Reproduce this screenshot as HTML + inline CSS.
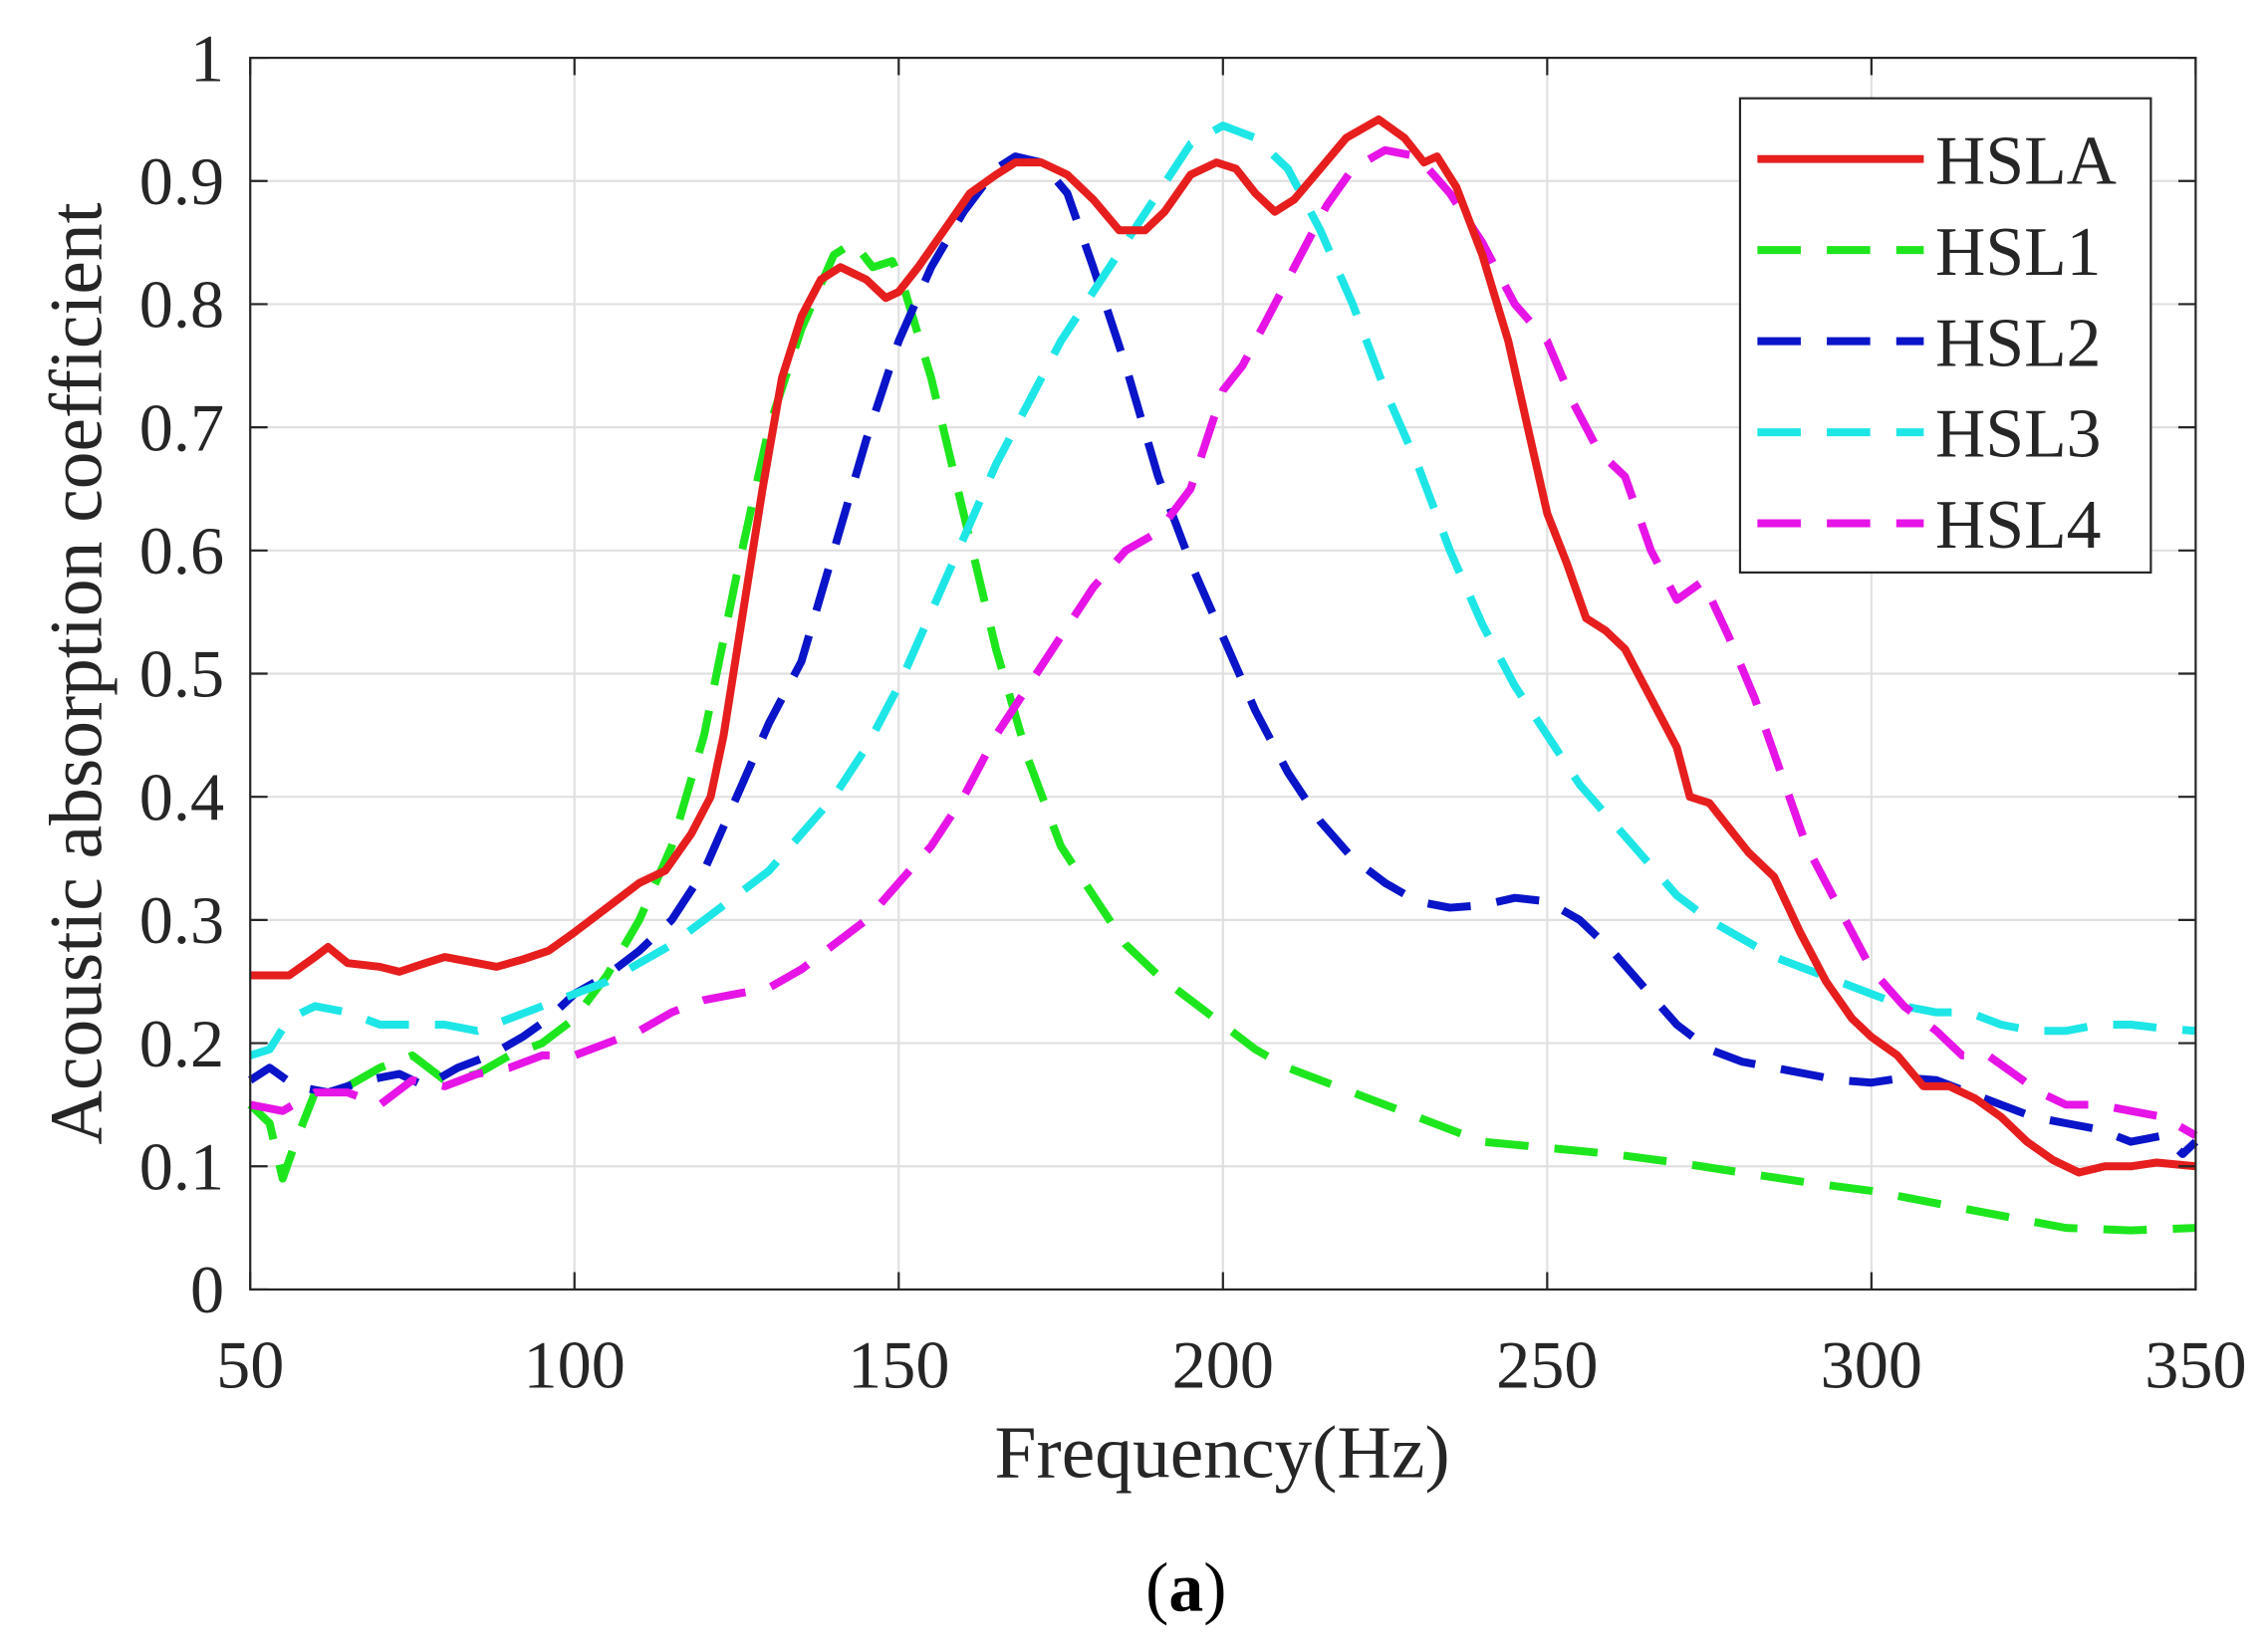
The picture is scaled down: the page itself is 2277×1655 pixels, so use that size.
<!DOCTYPE html>
<html><head><meta charset="utf-8"><style>
html,body{margin:0;padding:0;background:#fff;}
svg{display:block;}
text{font-family:"Liberation Serif",serif;fill:#262626;}
</style></head><body>
<svg id="s" width="2277" height="1655" viewBox="0 0 1568 1140" preserveAspectRatio="none" xmlns="http://www.w3.org/2000/svg">
<rect width="1568" height="1140" fill="#fff"/>
<g id="grid" stroke="#e0e0e0" stroke-width="1.5"></g>
<g id="series" fill="none" stroke-width="5.5" stroke-linejoin="round"></g>
<rect x="173" y="40" width="1345" height="852" fill="none" stroke="#262626" stroke-width="1.5"/>
<g id="ticks" stroke="#262626" stroke-width="1.5"></g>
<g id="labels" font-size="47"></g>
<text x="845" y="1022" font-size="52" text-anchor="middle">Frequency(Hz)</text>
<text transform="translate(70,466) rotate(-90)" font-size="52" text-anchor="middle">Acoustic absorption coefficient</text>
<text x="820" y="1114" font-size="48" text-anchor="middle" style="fill:#000">(<tspan font-weight="bold">a</tspan>)</text>
<g id="legend">
<rect x="1203" y="68" width="284" height="328" fill="#fff" stroke="#262626" stroke-width="1.5"/>
</g>
</svg>
<script>
const X=f=>173+(f-50)*1345/300, Y=v=>892-852*v;
const NS="http://www.w3.org/2000/svg";
function el(p,t,a,txt){const e=document.createElementNS(NS,t);for(const k in a)e.setAttribute(k,a[k]);if(txt!==undefined)e.textContent=txt;document.getElementById(p).appendChild(e);return e;}
for(let f=50;f<=350;f+=50){const x=X(f);el("grid","line",{x1:x,x2:x,y1:40,y2:892});el("ticks","line",{x1:x,x2:x,y1:892,y2:880});el("ticks","line",{x1:x,x2:x,y1:40,y2:52});el("labels","text",{x:x,y:960,"text-anchor":"middle"},String(f));}
for(let i=0;i<=10;i++){const v=i/10,y=Y(v);el("grid","line",{x1:173,x2:1518,y1:y,y2:y});el("ticks","line",{x1:173,x2:185,y1:y,y2:y});el("ticks","line",{x1:1518,x2:1506,y1:y,y2:y});el("labels","text",{x:155,y:y+16,"text-anchor":"end"},i==0?"0":i==10?"1":v.toFixed(1));}
const D={
A:[[50,.255],[56,.255],[60,.27],[62,.278],[65,.265],[70,.262],[73,.258],[77,.265],[80,.27],[85,.265],[88,.262],[92,.268],[96,.275],[100,.29],[105,.31],[110,.33],[114,.34],[118,.37],[121,.40],[123,.45],[126,.55],[129,.65],[132,.74],[135,.79],[138,.82],[141,.83],[145,.82],[148,.805],[150,.81],[153,.83],[157,.86],[161,.89],[165,.905],[168,.915],[172,.915],[176,.905],[180,.885],[184,.86],[188,.86],[191,.875],[195,.905],[199,.915],[202,.91],[205,.89],[208,.875],[211,.885],[215,.91],[219,.935],[224,.95],[228,.935],[231,.915],[233,.92],[236,.895],[240,.84],[244,.77],[247,.70],[250,.63],[253,.59],[256,.545],[259,.535],[262,.52],[265,.49],[268,.46],[270,.44],[272,.40],[275,.395],[278,.375],[281,.355],[285,.335],[289,.29],[293,.25],[297,.22],[300,.205],[304,.19],[308,.165],[312,.165],[316,.155],[320,.14],[324,.12],[328,.105],[332,.095],[336,.1],[340,.1],[344,.103],[350,.1]],
L1:[[50,.15],[53,.135],[55,.09],[57,.12],[60,.16],[65,.165],[70,.18],[75,.19],[80,.17],[85,.175],[90,.19],[95,.2],[100,.22],[105,.255],[110,.3],[115,.36],[120,.45],[125,.58],[130,.70],[135,.78],[140,.84],[143,.85],[146,.83],[149,.835],[151,.81],[155,.74],[160,.63],[165,.52],[170,.43],[175,.36],[180,.32],[185,.28],[190,.255],[195,.235],[200,.215],[205,.195],[210,.18],[215,.17],[220,.16],[230,.14],[240,.12],[250,.115],[260,.11],[270,.103],[280,.095],[290,.087],[300,.08],[310,.07],[320,.06],[330,.05],[340,.048],[350,.05]],
L2:[[50,.17],[53,.18],[57,.165],[62,.16],[68,.17],[73,.175],[77,.165],[82,.18],[87,.19],[92,.205],[96,.22],[100,.24],[105,.255],[110,.275],[115,.3],[120,.34],[125,.40],[130,.46],[135,.51],[140,.60],[145,.69],[150,.77],[155,.83],[160,.875],[165,.91],[168,.92],[172,.915],[176,.89],[180,.83],[185,.75],[190,.66],[195,.59],[200,.53],[205,.47],[210,.42],[215,.38],[220,.35],[225,.33],[230,.315],[235,.31],[240,.312],[245,.318],[250,.315],[255,.30],[260,.275],[265,.245],[270,.215],[275,.195],[280,.185],[285,.18],[290,.175],[295,.17],[300,.168],[305,.172],[310,.17],[315,.16],[320,.15],[325,.14],[330,.135],[335,.13],[340,.12],[345,.125],[348,.11],[350,.12]],
L3:[[50,.19],[53,.195],[56,.22],[60,.23],[65,.225],[70,.215],[75,.215],[80,.215],[85,.21],[90,.22],[95,.23],[100,.24],[105,.25],[110,.265],[115,.28],[120,.30],[125,.32],[130,.34],[135,.37],[140,.40],[145,.44],[150,.49],[155,.55],[160,.61],[165,.67],[170,.72],[175,.77],[180,.81],[185,.85],[190,.89],[195,.93],[200,.945],[205,.935],[210,.91],[215,.86],[220,.80],[225,.73],[230,.67],[235,.60],[240,.54],[245,.49],[250,.45],[255,.41],[260,.38],[265,.35],[270,.32],[275,.30],[280,.285],[285,.27],[290,.26],[295,.25],[300,.24],[305,.23],[310,.225],[315,.225],[320,.215],[325,.21],[330,.21],[335,.215],[340,.215],[345,.212],[350,.21]],
L4:[[50,.15],[55,.145],[60,.16],[65,.16],[70,.15],[75,.17],[80,.165],[85,.175],[90,.18],[95,.19],[100,.19],[105,.2],[110,.21],[115,.225],[120,.235],[125,.24],[130,.245],[135,.26],[140,.28],[145,.30],[150,.33],[155,.36],[160,.40],[165,.45],[170,.49],[175,.53],[180,.57],[185,.60],[190,.615],[195,.65],[200,.73],[203,.75],[208,.80],[212,.84],[216,.88],[220,.91],[225,.925],[230,.92],[235,.89],[240,.85],[245,.80],[250,.77],[254,.72],[258,.68],[262,.66],[266,.60],[270,.56],[274,.575],[278,.53],[282,.48],[286,.42],[290,.36],[295,.31],[300,.26],[305,.23],[310,.21],[314,.19],[318,.19],[322,.175],[326,.16],[330,.15],[335,.15],[340,.145],[345,.14],[350,.125]]};
const S=[["L1","#1ee61e",1],["L2","#0a14c8",1],["L3","#1ee6e6",1],["L4","#e614e6",1],["A","#e61e1e",0]];
for(const [k,c,d] of S){const a={d:"M"+D[k].map(p=>X(p[0]).toFixed(1)+","+Y(p[1]).toFixed(1)).join("L"),stroke:c};if(d)a["stroke-dasharray"]="30 18";el("series","path",a);}
const L=[["HSLA","#e61e1e",0],["HSL1","#1ee61e",1],["HSL2","#0a14c8",1],["HSL3","#1ee6e6",1],["HSL4","#e614e6",1]];
L.forEach((l,i)=>{const y=110+i*63;const a={x1:1215,x2:1330,y1:y,y2:y,stroke:l[1],"stroke-width":5.5};if(l[2])a["stroke-dasharray"]="30 18";el("legend","line",a);el("legend","text",{x:1338,y:y+17,"font-size":48},l[0]);});
</script>
</body></html>
